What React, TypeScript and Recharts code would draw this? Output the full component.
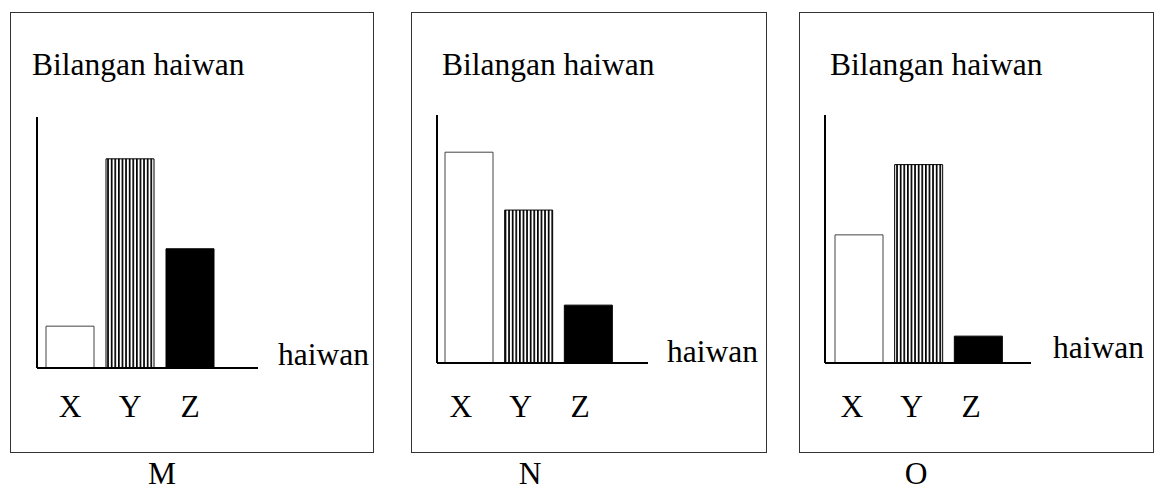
import React from "react"
import { BarChart, Bar, Cell, XAxis, YAxis } from "recharts"

// schematic bar charts: number of animals X, Y, Z in three habitats M, N, O
const categories = ["X", "Y", "Z"]
const panelNames = ["M", "N", "O"]
const valuesM = [2, 10, 5.7]
const valuesN = [10.2, 7.4, 2.8]
const valuesO = [6.2, 9.6, 1.3]
const yTitle = "Bilangan haiwan"
const xTitle = "haiwan"

const FONT = "'Liberation Serif', 'Times New Roman', serif"
const FS = 31.5
const BOX_TOP = 12
const BOX_H = 441

// margins already account for 1px x-axis height and 1px y-axis width
const layouts = [
  { left: 10, width: 364, margin: { top: 105, right: 116, bottom: 84, left: 26 }, padding: { left: 3, right: 38 }, tickMargin: 26.6, tickDx: 0, titleX: 22, xTitleX: 268, xTitleY: 353, nameX: 152 },
  { left: 411, width: 356, margin: { top: 103, right: 119, bottom: 89, left: 25 }, padding: { left: 2, right: 30 }, tickMargin: 31.6, tickDx: -8, titleX: 31, xTitleX: 256, xTitleY: 350, nameX: 119 },
  { left: 799, width: 355, margin: { top: 103, right: 123, bottom: 89, left: 25 }, padding: { left: 4, right: 23 }, tickMargin: 31.6, tickDx: -7, titleX: 31, xTitleX: 254, xTitleY: 346, nameX: 117 },
]

function Panel({ name, values, layout, idx }: { name: string; values: number[]; layout: any; idx: number }) {
  const data = categories.map((c, i) => ({ name: c, value: values[i] }))
  const hatchId = "hatch" + idx
  const fills = ["#ffffff", `url(#${hatchId})`, "#000000"]
  const strokes = ["#444444", "#000000", "#000000"]
  return (
    <>
      <div
        style={{
          position: "absolute",
          left: layout.left,
          top: BOX_TOP,
          width: layout.width,
          height: BOX_H,
          border: "1px solid #333",
          boxSizing: "border-box",
        }}
      />
      <div style={{ position: "absolute", left: layout.left, top: BOX_TOP }}>
        <BarChart width={layout.width} height={BOX_H} data={data} margin={layout.margin}>
          <defs>
            <pattern id={hatchId} width={3.6} height={10} patternUnits="userSpaceOnUse">
              <rect width={3.6} height={10} fill="#fff" />
              <rect width={1.7} height={10} fill="#000" />
            </pattern>
          </defs>
          <XAxis
            dataKey="name"
            height={1}
            padding={layout.padding}
            axisLine={{ stroke: "#000", strokeWidth: 2 }}
            tickLine={false}
            tickSize={0}
            tickMargin={layout.tickMargin}
            interval={0}
            tick={{ fill: "#000", fontSize: FS, fontFamily: FONT, dx: layout.tickDx }}
          />
          <YAxis
            width={1}
            domain={[0, 12]}
            tick={false}
            tickLine={false}
            axisLine={{ stroke: "#000", strokeWidth: 2 }}
          />
          <Bar dataKey="value" barSize={48} isAnimationActive={false}>
            {data.map((d, i) => (
              <Cell key={d.name} fill={fills[i]} stroke={strokes[i]} strokeWidth={1} />
            ))}
          </Bar>
        </BarChart>
      </div>
      <svg
        width={layout.width}
        height={490 - BOX_TOP}
        style={{ position: "absolute", left: layout.left, top: BOX_TOP, overflow: "visible", pointerEvents: "none" }}
      >
        <text x={layout.titleX} y={63} fontSize={FS} fontFamily={FONT} fill="#000">
          {yTitle}
        </text>
        <text x={layout.xTitleX} y={layout.xTitleY} fontSize={FS} fontFamily={FONT} fill="#000">
          {xTitle}
        </text>
        <text x={layout.nameX} y={472} fontSize={FS} fontFamily={FONT} fill="#000" textAnchor="middle">
          {name}
        </text>
      </svg>
    </>
  )
}

export default function App() {
  const allValues = [valuesM, valuesN, valuesO]
  return (
    <div style={{ position: "absolute", left: 0, top: 0, width: 1160, height: 490, background: "#fff" }}>
      {panelNames.map((n, i) => (
        <Panel key={n} name={n} values={allValues[i]} layout={layouts[i]} idx={i} />
      ))}
    </div>
  )
}
